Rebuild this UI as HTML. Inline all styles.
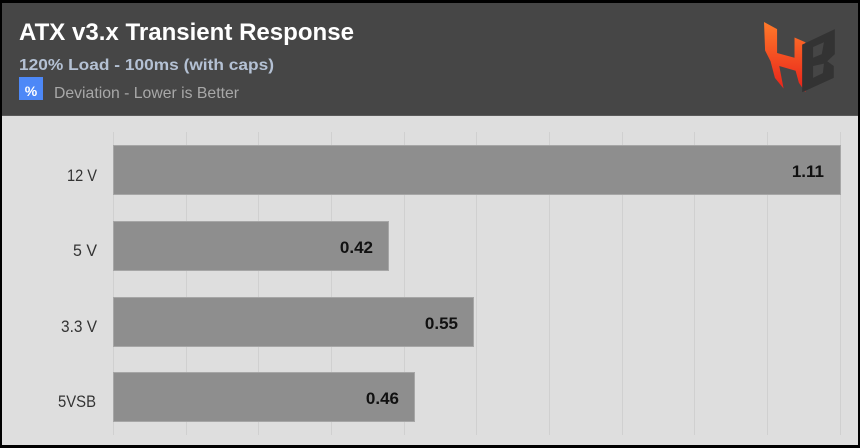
<!DOCTYPE html>
<html>
<head>
<meta charset="utf-8">
<style>
  html,body{margin:0;padding:0;background:#000;}
  svg{display:block;}
</style>
</head>
<body>
<svg width="860" height="448" viewBox="0 0 860 448" xmlns="http://www.w3.org/2000/svg">
  <defs>
    <linearGradient id="hg" x1="0" y1="0" x2="0" y2="1">
      <stop offset="0" stop-color="#ff7a2a"/>
      <stop offset="1" stop-color="#e8201a"/>
    </linearGradient>
  </defs>
  <rect x="0" y="0" width="860" height="448" fill="#000"/>
  <!-- header -->
  <rect x="2" y="3" width="856" height="112" fill="#464646"/>
  <!-- chart panel -->
  <rect x="2" y="115" width="856" height="330" fill="#dedede"/>
  <line x1="2" y1="115.5" x2="858" y2="115.5" stroke="#5a5a5a" stroke-width="1"/>

  <text x="19" y="40" font-family="Liberation Sans, sans-serif" font-weight="bold" font-size="24" fill="#ffffff" textLength="335" lengthAdjust="spacingAndGlyphs">ATX v3.x Transient Response</text>
  <text x="19" y="70" font-family="Liberation Sans, sans-serif" font-weight="bold" font-size="16" fill="#b4c1d4" textLength="255" lengthAdjust="spacingAndGlyphs">120% Load - 100ms (with caps)</text>
  <rect x="19" y="77" width="24" height="23" fill="#4d88f7"/>
  <text x="31" y="96" text-anchor="middle" font-family="Liberation Sans, sans-serif" font-weight="bold" font-size="14" fill="#ffffff">%</text>
  <text x="54" y="98" font-family="Liberation Sans, sans-serif" font-size="16" fill="#a8a8a8" textLength="185" lengthAdjust="spacingAndGlyphs">Deviation - Lower is Better</text>

  <!-- logo -->
  <g transform="translate(764,22) scale(1.09,1.19) translate(-765,-21)">
    <polygon points="765,21 777,27 777,47 793,51 793,34 803,38 803,80 797,72 794,62 779,58 783,77 775,68 771,54 766,45" fill="url(#hg)"/>
    <polygon points="800,40 830,27 830,48 823,54 829,58 829,68 800,80" fill="#333333"/>
    <polygon points="810,42 820,38 818,48 810,51" fill="#464646"/>
    <polygon points="810,58 820,56 819,64 810,68" fill="#464646"/>
  </g>

  <!-- gridlines -->
  <g stroke="#d0d0d0" stroke-width="1">
    <line x1="113.5" y1="132" x2="113.5" y2="435"/>
    <line x1="186.5" y1="132" x2="186.5" y2="435"/>
    <line x1="258.5" y1="132" x2="258.5" y2="435"/>
    <line x1="331.5" y1="132" x2="331.5" y2="435"/>
    <line x1="404.5" y1="132" x2="404.5" y2="435"/>
    <line x1="476.5" y1="132" x2="476.5" y2="435"/>
    <line x1="549.5" y1="132" x2="549.5" y2="435"/>
    <line x1="622.5" y1="132" x2="622.5" y2="435"/>
    <line x1="694.5" y1="132" x2="694.5" y2="435"/>
    <line x1="767.5" y1="132" x2="767.5" y2="435"/>
    <line x1="840.5" y1="132" x2="840.5" y2="435"/>
  </g>

  <!-- bars -->
  <g fill="#8e8e8e" stroke="#a6a6a6" stroke-width="1">
    <rect x="113.5" y="145.5" width="727" height="49"/>
    <rect x="113.5" y="221.5" width="275" height="49"/>
    <rect x="113.5" y="297.5" width="360" height="49"/>
    <rect x="113.5" y="372.5" width="301" height="49"/>
  </g>

  <!-- category labels -->
  <g font-family="Liberation Sans, sans-serif" font-size="17" fill="#333333" text-anchor="end">
    <text x="97" y="181" textLength="30" lengthAdjust="spacingAndGlyphs">12 V</text>
    <text x="97" y="256" textLength="24" lengthAdjust="spacingAndGlyphs">5 V</text>
    <text x="97" y="332" textLength="36" lengthAdjust="spacingAndGlyphs">3.3 V</text>
    <text x="96" y="407" textLength="38" lengthAdjust="spacingAndGlyphs">5VSB</text>
  </g>

  <!-- value labels -->
  <g font-family="Liberation Sans, sans-serif" font-size="17" font-weight="bold" fill="#111111" text-anchor="end">
    <text x="824" y="177">1.11</text>
    <text x="373" y="253">0.42</text>
    <text x="458" y="329">0.55</text>
    <text x="399" y="404">0.46</text>
  </g>
</svg>
</body>
</html>
